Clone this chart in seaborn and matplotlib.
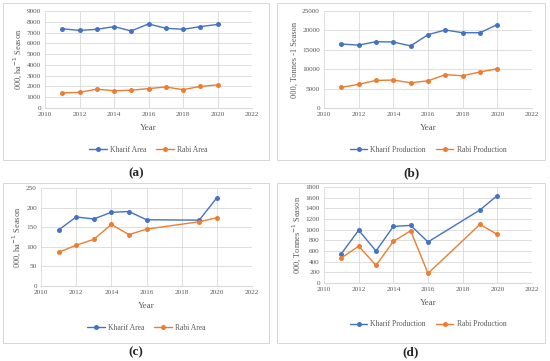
import pandas as pd
import matplotlib.pyplot as plt
import seaborn as sns
from matplotlib.patches import Rectangle

# data
years_full = [2011, 2012, 2013, 2014, 2015, 2016, 2017, 2018, 2019, 2020]
years_gap = [2011, 2012, 2013, 2014, 2015, 2016, 2019, 2020]

kharif_area_a = [7350, 7200, 7300, 7550, 7150, 7800, 7400, 7300, 7550, 7750]
rabi_area_a = [1400, 1450, 1750, 1600, 1650, 1800, 1950, 1700, 2000, 2150]

kharif_prod_b = [16500, 16200, 17100, 17000, 16000, 18900, 20100, 19400, 19400, 21500]
rabi_prod_b = [5300, 6100, 7100, 7200, 6500, 7000, 8600, 8300, 9300, 10100]

kharif_area_c = [143, 176, 171, 188, 190, 169, 168, 225]
rabi_area_c = [86, 104, 119, 157, 131, 145, 164, 174]

kharif_prod_d = [550, 990, 600, 1060, 1080, 770, 1370, 1640]
rabi_prod_d = [470, 690, 330, 780, 980, 180, 1100, 910]

sns.set_style("white")
plt.rcParams['font.family'] = ['Liberation Serif', 'DejaVu Serif']

W, H = 550, 361
fig = plt.figure(figsize=(W / 100, H / 100), dpi=100)

blue = "#4472C4"
orange = "#ED7D31"


def panel(box, ax_rect, years, k, r, names, ylabel, ymax, ystep, caption, cap_y):
    # panel frame
    bx, by, bw, bh = box
    fig.patches.append(Rectangle((bx / W, 1 - (by + bh) / H), bw / W, bh / H,
                                 transform=fig.transFigure, fill=False,
                                 edgecolor="#D0D0D0", linewidth=0.6))
    l, t, w, h = ax_rect
    ax = fig.add_axes([l / W, 1 - (t + h) / H, w / W, h / H])
    df = pd.DataFrame({
        "Year": years + years,
        "Value": k + r,
        "Series": [names[0]] * len(years) + [names[1]] * len(years),
    })
    sns.lineplot(data=df, x="Year", y="Value", hue="Series", marker="o",
                 palette=[blue, orange], markersize=3.6, linewidth=1,
                 markeredgewidth=0, ax=ax)
    ax.set_xlim(2010, 2022)
    ax.set_ylim(0, ymax)
    ax.set_xticks(range(2010, 2023, 2))
    ax.set_yticks(range(0, ymax + 1, ystep))
    ax.grid(True, color="#D9D9D9", linewidth=0.6)
    for s in ax.spines.values():
        s.set_visible(False)
    ax.spines["bottom"].set_visible(True)
    ax.spines["bottom"].set_color("#D9D9D9")
    ax.tick_params(labelsize=5.2, length=0, pad=3, colors="#595959")
    ax.set_xlabel("Year", fontsize=6.5, color="#595959", labelpad=5)
    ax.set_ylabel(ylabel, fontsize=6, color="#595959", labelpad=2)
    ax.legend(loc="center", bbox_to_anchor=(0.5, -0.43), ncol=2,
              frameon=False, fontsize=5.5, handlelength=2.3,
              columnspacing=1.3, handletextpad=0.4, labelcolor="#595959")
    fig.text((bx + bw / 2) / W, 1 - cap_y / H, caption, ha="center",
             va="center", fontsize=9.5, fontweight="bold")


panel((3, 3, 266, 157), (45, 11, 207, 97), years_full, kharif_area_a,
      rabi_area_a, ["Kharif Area", "Rabi Area"], "000, ha$^{-1}$ Season",
      9000, 1000, "(a)", 173)
panel((277, 3, 268, 157), (324, 11, 208, 97), years_full, kharif_prod_b,
      rabi_prod_b, ["Kharif Production", "Rabi Production"],
      "000, Tonnes -1 Season", 25000, 5000, "(b)", 173)
panel((3, 183, 266, 160), (41, 188, 211, 98), years_gap, kharif_area_c,
      rabi_area_c, ["Kharif Area", "Rabi Area"], "000, ha$^{-1}$ Season",
      250, 50, "(c)", 352)
panel((277, 183, 268, 160), (324, 187, 208, 96), years_gap, kharif_prod_d,
      rabi_prod_d, ["Kharif Production", "Rabi Production"],
      "000, Tonnes$^{-1}$ Season", 1800, 200, "(d)", 352)

fig.savefig("out.png", dpi=100)
